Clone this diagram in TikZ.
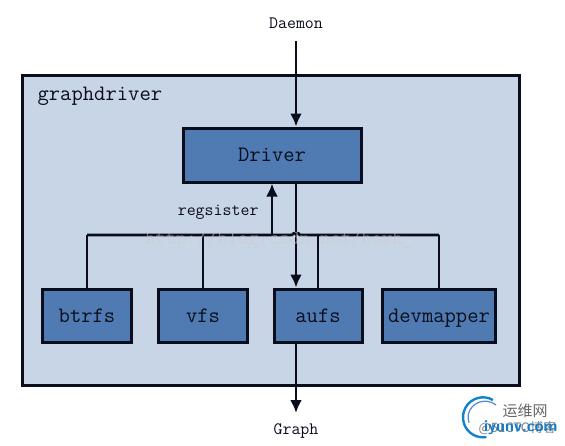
\documentclass[tikz,border=0pt]{standalone}
\usepackage{fontspec}
\usepackage{tikz}
\usetikzlibrary{arrows.meta}
\newfontfamily\cjkfont{Noto Sans CJK SC}
\definecolor{panelblue}{HTML}{C8D5E6}
\definecolor{boxblue}{HTML}{4F7BB2}
\definecolor{inkblack}{HTML}{0A0E1C}

\begin{document}
\begin{tikzpicture}[x=1pt,y=-1pt,>={Latex[length=13pt,width=12pt]},font=\ttfamily]
    \tikzstyle{module}=[draw=inkblack, line width=3pt, fill=boxblue, text=inkblack,
        inner sep=0pt, text height=15pt, text depth=2pt, font=\ttfamily\fontsize{22}{22}\selectfont]
    \tikzstyle{flow}=[->, line width=2.8pt, draw=inkblack]
    \tikzstyle{wire}=[line width=2.8pt, draw=inkblack]
    \tikzstyle{caption}=[text=inkblack, font=\ttfamily\fontsize{17.4}{17.4}\selectfont]

    \useasboundingbox (0,0) rectangle (565,445);

    % Frame
    \node[draw=inkblack, line width=3pt, fill=panelblue, minimum width=497pt, minimum height=310pt,
        inner sep=0pt] (frame) at (270.5,230) {};
    \node[anchor=west, text=inkblack, font=\ttfamily\fontsize{22}{22}\selectfont] (title) at (34,96) {graphdriver};

    % Outer labels
    \node[caption] (daemon) at (296,23) {Daemon};
    \node[caption] (graph) at (296,431) {Graph};

    % Driver and backends
    \node[module, minimum width=178pt, minimum height=54pt] (driver) at (272,155) {Driver};
    \node[module, minimum width=89pt, minimum height=53pt] (btrfs) at (87,315.5) {btrfs};
    \node[module, minimum width=89pt, minimum height=53pt] (vfs) at (203,315.5) {vfs};
    \node[module, minimum width=88pt, minimum height=53pt] (aufs) at (318,315.5) {aufs};
    \node[module, minimum width=113pt, minimum height=53pt] (devmapper) at (439,315.5) {devmapper};

    % Bus
    \coordinate (busl) at (87,235);
    \coordinate (busr) at (439,235);
    \coordinate (hopl) at (292,235);
    \coordinate (hopr) at (300,235);
    \coordinate (regbus) at (272,235);
    \coordinate (daemonend) at (296,41);
    \coordinate (graphend) at (296,413);
    \draw[wire] (busl) -- (hopl) to[bend left=60] (hopr) -- (busr);
    \draw[wire] (btrfs.north) -- (busl);
    \draw[wire] (vfs.north) -- (vfs.north |- busl);
    \draw[wire] (aufs.north) -- (aufs.north |- busl);
    \draw[wire] (devmapper.north) -- (busr);

    % Flow
    \draw[flow] (daemonend) -- (daemonend |- driver.north);
    \draw[flow] (regbus) -- (regbus |- driver.south);
    \draw[flow] (daemonend |- driver.south) -- (daemonend |- aufs.north);
    \draw[flow] (daemonend |- aufs.south) -- (graphend);
    \node[caption, anchor=east] (regsister) at (262,212) {regsister};

    % Watermarks
    \node[text=gray!40, opacity=0.55, font=\ttfamily\fontsize{20}{20}\selectfont] (url) at (279,240) {http://blog.csdn.net/howh\_};
    \draw[line width=2.4pt, cyan!65!blue] (493,400) arc (60:280:20pt and 20pt);
    \draw[line width=1.2pt, cyan!45!blue!70] (496,405) arc (50:200:17pt and 16pt);
    \node[text=gray!80!black, font=\cjkfont\fontsize{15}{15}\selectfont] (logotext) at (525,411) {运维网};
    \node[text=gray, font=\cjkfont\fontsize{13}{13}\selectfont, anchor=east] (blog) at (560,428) {@51CTO博客};
    \node[text=cyan!60!blue, font=\sffamily\bfseries\fontsize{16}{16}\selectfont, anchor=east] (site) at (561,428) {iyunv.com};
\end{tikzpicture}
\end{document}
